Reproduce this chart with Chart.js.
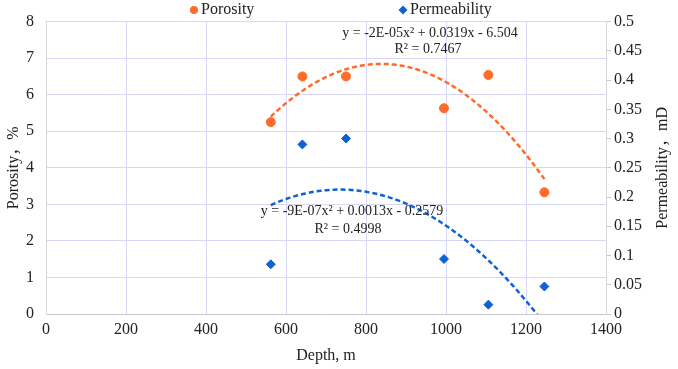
<!DOCTYPE html>
<html>
<head>
<meta charset="utf-8">
<script src="https://cdn.jsdelivr.net/npm/chart.js@4/dist/chart.umd.min.js"></script>
<style>
  html, body { margin: 0; padding: 0; background: #fff; }
  #wrap { width: 678px; height: 369px; }
</style>
</head>
<body>
<div id="wrap"><canvas id="chart" width="678" height="369"></canvas></div>
<script>
// values
const depth = [562, 641, 750, 995, 1106, 1246];
const porosity = [5.25, 6.5, 6.5, 5.63, 6.54, 3.33];
const permeability = [0.085, 0.29, 0.30, 0.094, 0.016, 0.047];
const porosityEq = ['y = -2E-05x\u00B2 + 0.0319x - 6.504', 'R\u00B2 = 0.7467'];
const permeabilityEq = ['y = -9E-07x\u00B2 + 0.0013x - 0.2579', 'R\u00B2 = 0.4998'];

const orange = '#ff6b2a';
const blue = '#0d62d4';
const gridColor = '#d8d8f6';
const font = "'Liberation Serif', 'Noto Sans CJK SC', serif";

// least squares quadratic, like the Excel trendline
function quadFit(xs, ys) {
  const s = [0, 0, 0, 0, 0], t = [0, 0, 0];
  xs.forEach((x, i) => {
    for (let k = 0; k < 5; k++) s[k] += Math.pow(x, k);
    for (let k = 0; k < 3; k++) t[k] += Math.pow(x, k) * ys[i];
  });
  const m = [[s[0], s[1], s[2], t[0]], [s[1], s[2], s[3], t[1]], [s[2], s[3], s[4], t[2]]];
  for (let c = 0; c < 3; c++) {
    for (let r = c + 1; r < 3; r++) {
      const f = m[r][c] / m[c][c];
      for (let k = c; k < 4; k++) m[r][k] -= f * m[c][k];
    }
  }
  const b = [0, 0, 0];
  for (let r = 2; r >= 0; r--) {
    let v = m[r][3];
    for (let k = r + 1; k < 3; k++) v -= m[r][k] * b[k];
    b[r] = v / m[r][r];
  }
  return x => b[0] + b[1] * x + b[2] * x * x;
}

function trend(xs, ys) {
  const f = quadFit(xs, ys);
  const pts = [];
  const lo = xs[0], hi = xs[xs.length - 1];
  for (let x = lo; x <= hi; x += 4) pts.push({x: x, y: f(x)});
  pts.push({x: hi, y: f(hi)});
  return pts;
}

const pts = (ys) => depth.map((d, i) => ({x: d, y: ys[i]}));

const extras = {
  id: 'extras',
  afterDraw(chart) {
    const ctx = chart.ctx;
    const x = chart.scales.x, y = chart.scales.y;
    ctx.save();
    ctx.fillStyle = '#222';
    ctx.textAlign = 'center';
    ctx.textBaseline = 'middle';
    ctx.font = '14px ' + font;
    ctx.fillText(porosityEq[0], x.getPixelForValue(960), y.getPixelForValue(7.68));
    ctx.fillText(porosityEq[1], x.getPixelForValue(955), y.getPixelForValue(7.24));
    ctx.fillText(permeabilityEq[0], x.getPixelForValue(765), y.getPixelForValue(2.8));
    ctx.fillText(permeabilityEq[1], x.getPixelForValue(755), y.getPixelForValue(2.33));

    // legend
    ctx.font = '16px ' + font;
    ctx.textAlign = 'left';
    ctx.fillStyle = orange;
    ctx.beginPath();
    ctx.arc(194, 10, 4, 0, Math.PI * 2);
    ctx.fill();
    ctx.fillStyle = blue;
    ctx.beginPath();
    ctx.moveTo(403, 5.5); ctx.lineTo(407.5, 10); ctx.lineTo(403, 14.5); ctx.lineTo(398.5, 10);
    ctx.closePath();
    ctx.fill();
    ctx.fillStyle = '#222';
    ctx.fillText('Porosity', 201, 10);
    ctx.fillText('Permeability', 410, 10);

    // right axis title, reading bottom to top
    const r = chart.scales.y1;
    ctx.translate(663, (r.top + r.bottom) / 2);
    ctx.rotate(-Math.PI / 2);
    ctx.textAlign = 'center';
    ctx.fillText('Permeability\uFF0CmD', 0, 0);
    ctx.restore();
  }
};

new Chart(document.getElementById('chart'), {
  type: 'scatter',
  data: {
    datasets: [
      {
        label: 'Porosity trend',
        type: 'line',
        data: trend(depth, porosity),
        yAxisID: 'y',
        borderColor: orange,
        borderWidth: 2.5,
        borderDash: [5, 3],
        pointRadius: 0,
        fill: false,
        clip: 0,
      },
      {
        label: 'Permeability trend',
        type: 'line',
        data: trend(depth, permeability),
        yAxisID: 'y1',
        borderColor: blue,
        borderWidth: 2.5,
        borderDash: [5, 3],
        pointRadius: 0,
        fill: false,
        clip: 0,
      },
      {
        label: 'Porosity',
        data: pts(porosity),
        yAxisID: 'y',
        backgroundColor: orange,
        borderColor: orange,
        pointRadius: 4.5,
        pointStyle: 'circle',
      },
      {
        label: 'Permeability',
        data: pts(permeability),
        yAxisID: 'y1',
        backgroundColor: blue,
        borderColor: blue,
        pointRadius: 4.5,
        pointStyle: 'rectRot',
      },
    ]
  },
  options: {
    responsive: false,
    animation: false,
    layout: {padding: {top: 21, left: 0, right: 0, bottom: 0}},
    plugins: {
      legend: {display: false},
      tooltip: {enabled: false},
    },
    scales: {
      x: {
        type: 'linear',
        min: 0,
        max: 1400,
        ticks: {stepSize: 200, color: '#222', font: {family: font, size: 16}, padding: 6, callback: v => String(v)},
        grid: {color: gridColor, drawTicks: false},
        border: {color: '#c8c8c8'},
        title: {display: true, text: 'Depth, m', color: '#222', font: {family: font, size: 16}, padding: {top: 2, bottom: 4}},
        afterFit: s => { s.height = 55; },
      },
      y: {
        type: 'linear',
        position: 'left',
        min: 0,
        max: 8,
        ticks: {stepSize: 1, color: '#222', font: {family: font, size: 16}, padding: 12},
        grid: {color: gridColor, drawTicks: false},
        border: {color: '#d8d8d8'},
        title: {display: true, text: 'Porosity\uFF0C%', color: '#222', font: {family: font, size: 16}, padding: {top: 4, bottom: 4}},
        afterFit: s => { s.width = 46; },
      },
      y1: {
        type: 'linear',
        position: 'right',
        min: 0,
        max: 0.5,
        ticks: {
          stepSize: 0.05,
          color: '#222',
          font: {family: font, size: 16},
          padding: 3,
          callback: v => String(Math.round(v * 100) / 100),
        },
        grid: {drawOnChartArea: false, color: '#c8c8c8', tickLength: 5},
        border: {color: '#d8d8d8'},
        title: {display: false},
        afterFit: s => { s.width = 72; },
      },
    }
  },
  plugins: [extras]
});
</script>
</body>
</html>
